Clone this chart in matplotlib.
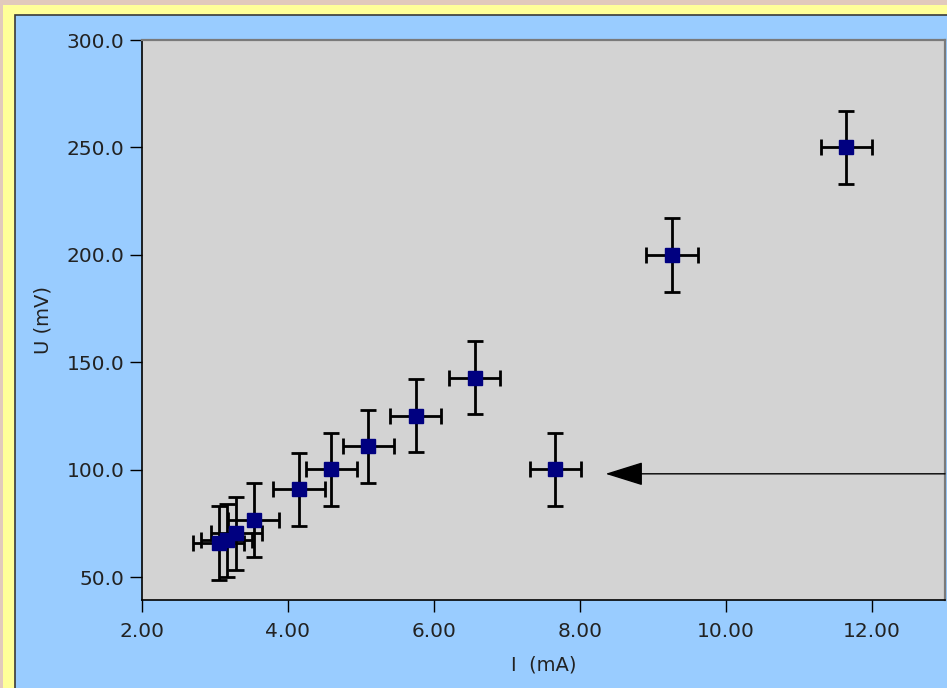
import matplotlib.pyplot as plt
from matplotlib.patches import Rectangle

# measured current (mA) and voltage (mV)
current = [3.05, 3.16, 3.29, 3.53, 4.15, 4.59, 5.10, 5.75, 6.56, 7.66, 9.26, 11.65]
voltage = [66.0, 67.3, 70.6, 76.7, 91.0, 100.3, 111.0, 125.3, 143.0, 100.3, 200.0, 250.2]
current_err = [0.35] * len(current)
voltage_err = [17.0] * len(voltage)

y_ticks = [50, 100, 150, 200, 250, 300]
x_ticks = [2, 4, 6, 8, 10, 12]

plt.rcParams['font.family'] = 'DejaVu Sans'

fig = plt.figure(figsize=(9.47, 6.88), dpi=100)
fig.patch.set_facecolor('#e2cabc')
W, H = 947.0, 688.0
# yellow frame and blue panel
fig.patches.append(Rectangle((3 / W, 0), 1, (H - 5) / H, transform=fig.transFigure,
                             facecolor='#ffff99', edgecolor='none', zorder=-10))
fig.patches.append(Rectangle((15 / W, -0.01), 1, (H - 15) / H + 0.01, transform=fig.transFigure,
                             facecolor='#99ccff', edgecolor='#3a3a3a', lw=1.2, zorder=-9))

ax = fig.add_axes([142 / W, (H - 600) / H, (945 - 142) / W, (600 - 40) / H])
ax.set_facecolor('#d3d3d3')

ax.errorbar(current, voltage, xerr=current_err, yerr=voltage_err, fmt='s',
            color='#000080', markersize=10.5, ecolor='black', elinewidth=2,
            capsize=5.5, capthick=2, zorder=3)

ax.annotate('', xy=(8.35, 98.2), xytext=(13.0, 98.2),
            arrowprops=dict(arrowstyle='-|>,head_length=2.4,head_width=0.75',
                            mutation_scale=10, lw=1, color='black',
                            shrinkA=0, shrinkB=0), annotation_clip=False)

ax.set_xlim(2, 13.0)
ax.set_ylim(39.5, 300)
ax.set_xticks(x_ticks)
ax.set_yticks(y_ticks)
ax.set_xticklabels(['%.2f' % v for v in x_ticks])
ax.set_yticklabels(['%.1f' % v for v in y_ticks])
ax.tick_params(direction='out', length=8.5, width=1, labelsize=14.5,
               colors='black', labelcolor='#222222', pad=4)
ax.tick_params(axis='x', pad=7)

for side in ['left', 'bottom']:
    ax.spines[side].set_color('black')
    ax.spines[side].set_linewidth(1.2)
for side in ['top', 'right']:
    ax.spines[side].set_color('#7a7a7a')
    ax.spines[side].set_linewidth(1.6)

ax.set_xlabel('I  (mA)', fontsize=14, color='#222222', labelpad=11)
ax.set_ylabel('U (mV)', fontsize=14, color='#222222', labelpad=10)

plt.savefig('out.png', dpi=100, facecolor=fig.get_facecolor())
